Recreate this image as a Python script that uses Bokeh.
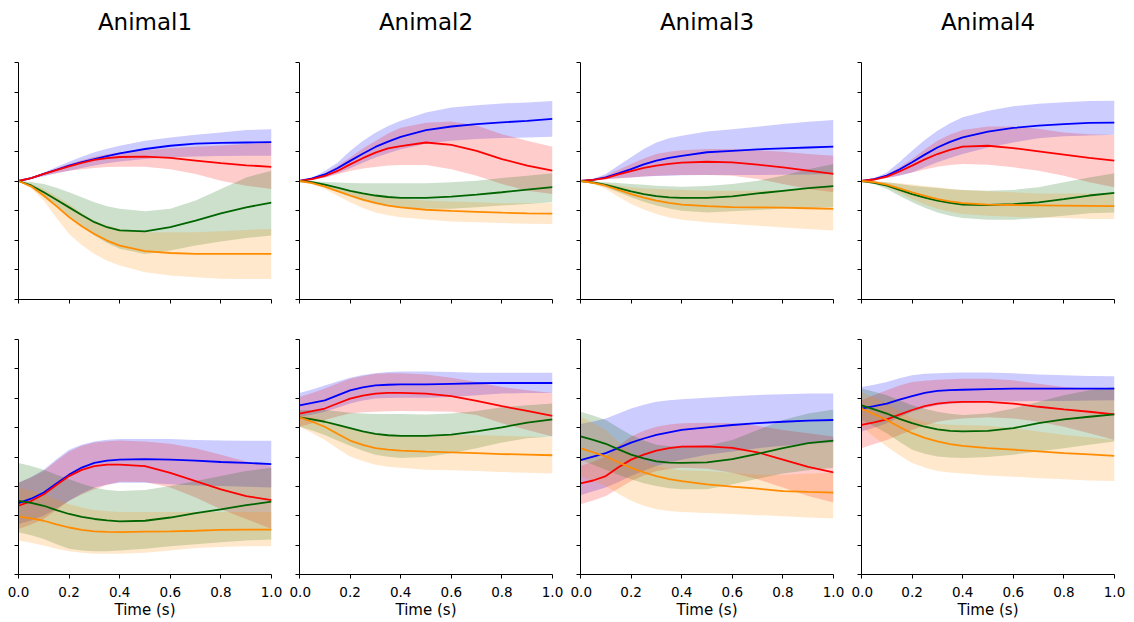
from bokeh.plotting import figure
from bokeh.layouts import column, row
from bokeh.models import Range1d, FixedTicker, CustomJSTickFormatter, PrintfTickFormatter, Title
from bokeh.embed import file_html
from bokeh.resources import INLINE

# ---------------- data ----------------
t = [0.0, 0.05, 0.1, 0.15, 0.2, 0.25, 0.3, 0.35, 0.4, 0.5, 0.6, 0.7, 0.8, 0.9, 1.0]
animals = ["Animal1", "Animal2", "Animal3", "Animal4"]
x_ticks = [0.0, 0.2, 0.4, 0.6, 0.8, 1.0]
y_ticks = [-4, -3, -2, -1, 0, 1, 2, 3, 4]
series_names = ["blue", "red", "green", "orange"]
series_colors = ["#0000ff", "#ff0000", "#006400", "#ff8c00"]

# ---- top row, Animal1 ----
top1_blue = [0, 0.10, 0.24, 0.38, 0.52, 0.64, 0.74, 0.84, 0.93, 1.08, 1.19, 1.26, 1.29, 1.30, 1.31]
top1_blue_hi = [0, 0.12, 0.29, 0.47, 0.65, 0.82, 0.97, 1.09, 1.19, 1.36, 1.47, 1.56, 1.64, 1.72, 1.75]
top1_blue_lo = [0, 0.07, 0.16, 0.26, 0.35, 0.44, 0.52, 0.60, 0.66, 0.74, 0.80, 0.83, 0.84, 0.85, 0.85]
top1_red = [0, 0.10, 0.24, 0.37, 0.49, 0.61, 0.71, 0.77, 0.81, 0.82, 0.78, 0.69, 0.60, 0.53, 0.48]
top1_red_hi = [0, 0.11, 0.27, 0.42, 0.57, 0.70, 0.82, 0.90, 0.97, 1.04, 1.11, 1.16, 1.20, 1.25, 1.30]
top1_red_lo = [0, 0.08, 0.18, 0.27, 0.35, 0.40, 0.44, 0.47, 0.48, 0.48, 0.40, 0.24, 0.01, -0.16, -0.27]
top1_green = [0, -0.15, -0.38, -0.63, -0.89, -1.15, -1.39, -1.56, -1.67, -1.70, -1.56, -1.34, -1.09, -0.89, -0.73]
top1_green_hi = [0, -0.03, -0.10, -0.23, -0.38, -0.55, -0.72, -0.85, -0.94, -1.02, -0.94, -0.66, -0.27, 0.12, 0.35]
top1_green_lo = [0, -0.22, -0.55, -0.88, -1.22, -1.55, -1.84, -2.09, -2.29, -2.46, -2.35, -2.18, -2.04, -1.92, -1.84]
top1_orange = [0, -0.18, -0.49, -0.85, -1.22, -1.53, -1.79, -2.01, -2.18, -2.37, -2.43, -2.46, -2.46, -2.46, -2.46]
top1_orange_hi = [0, -0.09, -0.27, -0.52, -0.78, -1.08, -1.34, -1.50, -1.62, -1.73, -1.73, -1.73, -1.70, -1.65, -1.62]
top1_orange_lo = [0, -0.25, -0.66, -1.25, -1.79, -2.16, -2.46, -2.69, -2.85, -3.08, -3.19, -3.25, -3.30, -3.31, -3.31]

# ---- top row, Animal2 ----
top2_blue = [0, 0.09, 0.22, 0.43, 0.68, 0.92, 1.15, 1.33, 1.49, 1.72, 1.84, 1.92, 1.98, 2.03, 2.10]
top2_blue_hi = [0, 0.11, 0.34, 0.62, 1.01, 1.35, 1.63, 1.86, 2.03, 2.31, 2.48, 2.56, 2.62, 2.65, 2.70]
top2_blue_lo = [0, 0.04, 0.12, 0.26, 0.43, 0.62, 0.79, 0.94, 1.07, 1.26, 1.36, 1.42, 1.45, 1.47, 1.49]
top2_red = [0, 0.06, 0.17, 0.34, 0.56, 0.77, 0.96, 1.10, 1.18, 1.30, 1.22, 1.02, 0.74, 0.52, 0.35]
top2_red_hi = [0, 0.08, 0.25, 0.51, 0.79, 1.10, 1.35, 1.60, 1.80, 1.97, 2.01, 1.87, 1.58, 1.36, 1.16]
top2_red_lo = [0, 0.05, 0.11, 0.23, 0.34, 0.42, 0.47, 0.52, 0.54, 0.54, 0.40, 0.18, -0.10, -0.33, -0.44]
top2_green = [0, -0.04, -0.12, -0.22, -0.33, -0.42, -0.49, -0.54, -0.57, -0.57, -0.53, -0.46, -0.38, -0.29, -0.21]
top2_green_hi = [0, -0.01, -0.03, -0.05, -0.07, -0.08, -0.08, -0.08, -0.08, -0.08, -0.04, 0.01, 0.10, 0.18, 0.26]
top2_green_lo = [0, -0.08, -0.21, -0.37, -0.53, -0.67, -0.78, -0.85, -0.89, -0.94, -0.94, -0.89, -0.83, -0.78, -0.72]
top2_orange = [0, -0.07, -0.19, -0.34, -0.49, -0.63, -0.74, -0.83, -0.89, -0.97, -1.01, -1.04, -1.07, -1.09, -1.10]
top2_orange_hi = [0, -0.04, -0.10, -0.22, -0.33, -0.42, -0.49, -0.56, -0.61, -0.66, -0.69, -0.72, -0.75, -0.75, -0.74]
top2_orange_lo = [0, -0.10, -0.27, -0.50, -0.72, -0.91, -1.06, -1.16, -1.22, -1.30, -1.37, -1.39, -1.42, -1.44, -1.45]

# ---- top row, Animal3 ----
top3_blue = [0, 0.04, 0.12, 0.26, 0.40, 0.56, 0.69, 0.78, 0.85, 0.97, 1.02, 1.07, 1.10, 1.13, 1.16]
top3_blue_hi = [0, 0.08, 0.24, 0.52, 0.80, 1.08, 1.30, 1.44, 1.53, 1.67, 1.75, 1.83, 1.92, 2.00, 2.06]
top3_blue_lo = [0, 0.03, 0.06, 0.09, 0.12, 0.15, 0.17, 0.18, 0.19, 0.20, 0.20, 0.20, 0.21, 0.22, 0.24]
top3_red = [0, 0.04, 0.10, 0.22, 0.33, 0.44, 0.52, 0.58, 0.62, 0.65, 0.63, 0.55, 0.46, 0.35, 0.24]
top3_red_hi = [0, 0.06, 0.18, 0.38, 0.57, 0.76, 0.91, 0.99, 1.04, 1.08, 1.08, 1.04, 0.99, 0.91, 0.85]
top3_red_lo = [0, 0.03, 0.06, 0.09, 0.12, 0.15, 0.18, 0.19, 0.20, 0.20, 0.18, 0.07, -0.10, -0.27, -0.38]
top3_green = [0, -0.05, -0.13, -0.24, -0.35, -0.44, -0.51, -0.55, -0.57, -0.57, -0.52, -0.42, -0.33, -0.24, -0.17]
top3_green_hi = [0, -0.02, -0.04, -0.07, -0.10, -0.13, -0.16, -0.18, -0.19, -0.17, -0.10, 0.01, 0.18, 0.40, 0.57]
top3_green_lo = [0, -0.08, -0.21, -0.38, -0.55, -0.70, -0.83, -0.93, -1.00, -1.06, -1.02, -0.98, -0.94, -0.91, -0.89]
top3_orange = [0, -0.06, -0.16, -0.30, -0.44, -0.56, -0.66, -0.74, -0.80, -0.85, -0.88, -0.89, -0.90, -0.92, -0.94]
top3_orange_hi = [0, -0.03, -0.08, -0.15, -0.21, -0.25, -0.27, -0.29, -0.30, -0.33, -0.33, -0.33, -0.30, -0.27, -0.24]
top3_orange_lo = [0, -0.10, -0.27, -0.53, -0.78, -0.96, -1.11, -1.23, -1.31, -1.39, -1.45, -1.51, -1.57, -1.62, -1.67]

# ---- top row, Animal4 ----
top4_blue = [0, 0.06, 0.18, 0.39, 0.63, 0.89, 1.13, 1.32, 1.47, 1.67, 1.79, 1.87, 1.92, 1.96, 1.97]
top4_blue_hi = [0, 0.10, 0.29, 0.64, 1.02, 1.38, 1.70, 1.95, 2.15, 2.37, 2.52, 2.61, 2.66, 2.70, 2.71]
top4_blue_lo = [0, 0.03, 0.10, 0.18, 0.29, 0.46, 0.63, 0.78, 0.91, 1.13, 1.30, 1.44, 1.51, 1.54, 1.56]
top4_red = [0, 0.05, 0.15, 0.32, 0.52, 0.73, 0.91, 1.05, 1.16, 1.19, 1.11, 1.00, 0.89, 0.78, 0.69]
top4_red_hi = [0, 0.07, 0.21, 0.46, 0.74, 1.06, 1.36, 1.57, 1.72, 1.84, 1.84, 1.76, 1.64, 1.58, 1.55]
top4_red_lo = [0, 0.03, 0.09, 0.19, 0.29, 0.39, 0.48, 0.54, 0.57, 0.55, 0.46, 0.35, 0.18, -0.04, -0.21]
top4_green = [0, -0.06, -0.16, -0.30, -0.44, -0.56, -0.66, -0.74, -0.80, -0.81, -0.78, -0.72, -0.61, -0.49, -0.40]
top4_green_hi = [0, -0.01, -0.04, -0.10, -0.16, -0.20, -0.24, -0.28, -0.30, -0.33, -0.30, -0.21, -0.04, 0.12, 0.26]
top4_green_lo = [0, -0.10, -0.27, -0.50, -0.72, -0.90, -1.06, -1.17, -1.25, -1.31, -1.31, -1.25, -1.17, -1.09, -1.06]
top4_orange = [0, -0.04, -0.12, -0.25, -0.38, -0.50, -0.61, -0.69, -0.75, -0.80, -0.81, -0.82, -0.83, -0.84, -0.85]
top4_orange_hi = [0, -0.02, -0.04, -0.08, -0.12, -0.17, -0.21, -0.26, -0.30, -0.35, -0.38, -0.42, -0.42, -0.42, -0.42]
top4_orange_lo = [0, -0.07, -0.19, -0.40, -0.61, -0.79, -0.94, -1.04, -1.11, -1.17, -1.21, -1.23, -1.25, -1.28, -1.28]

# ---- bottom row, Animal1 ----
bot1_blue = [-1.57, -1.42, -1.21, -0.90, -0.60, -0.36, -0.20, -0.12, -0.09, -0.07, -0.09, -0.12, -0.17, -0.20, -0.24]
bot1_blue_hi = [-0.88, -0.68, -0.43, -0.08, 0.25, 0.42, 0.53, 0.59, 0.61, 0.61, 0.61, 0.58, 0.56, 0.55, 0.55]
bot1_blue_lo = [-2.28, -2.16, -2.00, -1.76, -1.49, -1.24, -1.04, -0.94, -0.88, -0.88, -0.93, -0.97, -0.99, -1.01, -1.04]
bot1_red = [-1.66, -1.50, -1.27, -0.95, -0.65, -0.44, -0.31, -0.26, -0.26, -0.31, -0.54, -0.82, -1.10, -1.33, -1.47]
bot1_red_hi = [-0.88, -0.70, -0.48, -0.13, 0.19, 0.38, 0.49, 0.54, 0.56, 0.53, 0.45, 0.30, 0.08, -0.15, -0.31]
bot1_red_lo = [-2.45, -2.30, -2.11, -1.80, -1.49, -1.28, -1.10, -0.95, -0.84, -0.85, -1.04, -1.38, -1.78, -2.11, -2.45]
bot1_green = [-1.49, -1.56, -1.66, -1.81, -1.94, -2.04, -2.11, -2.16, -2.19, -2.17, -2.06, -1.91, -1.78, -1.64, -1.52]
bot1_green_hi = [-0.20, -0.31, -0.43, -0.60, -0.76, -0.91, -1.04, -1.12, -1.16, -1.12, -0.99, -0.82, -0.65, -0.48, -0.37]
bot1_green_lo = [-2.56, -2.66, -2.79, -2.97, -3.12, -3.18, -3.21, -3.21, -3.18, -3.12, -3.04, -2.97, -2.90, -2.84, -2.81]
bot1_orange = [-2.03, -2.09, -2.17, -2.29, -2.40, -2.48, -2.53, -2.55, -2.56, -2.54, -2.53, -2.51, -2.48, -2.47, -2.47]
bot1_orange_hi = [-1.04, -1.15, -1.27, -1.45, -1.61, -1.72, -1.80, -1.85, -1.87, -1.87, -1.87, -1.87, -1.87, -1.87, -1.87]
bot1_orange_lo = [-2.84, -2.92, -3.01, -3.12, -3.21, -3.26, -3.29, -3.29, -3.29, -3.26, -3.18, -3.10, -3.06, -3.04, -3.04]

# ---- bottom row, Animal2 ----
bot2_blue = [1.76, 1.84, 1.93, 2.10, 2.27, 2.37, 2.44, 2.46, 2.47, 2.47, 2.49, 2.51, 2.52, 2.52, 2.52]
bot2_blue_hi = [2.18, 2.30, 2.43, 2.57, 2.70, 2.79, 2.85, 2.89, 2.91, 2.91, 2.89, 2.87, 2.87, 2.87, 2.87]
bot2_blue_lo = [1.37, 1.45, 1.54, 1.68, 1.82, 1.92, 1.99, 2.01, 2.02, 2.02, 2.04, 2.10, 2.16, 2.18, 2.18]
bot2_red = [1.48, 1.56, 1.65, 1.82, 1.99, 2.09, 2.16, 2.18, 2.18, 2.16, 2.07, 1.91, 1.73, 1.57, 1.40]
bot2_red_hi = [2.04, 2.18, 2.33, 2.50, 2.66, 2.76, 2.83, 2.85, 2.85, 2.81, 2.70, 2.55, 2.38, 2.27, 2.18]
bot2_red_lo = [1.03, 1.15, 1.26, 1.38, 1.48, 1.52, 1.54, 1.56, 1.57, 1.56, 1.54, 1.43, 1.15, 0.92, 0.70]
bot2_green = [1.35, 1.28, 1.20, 1.09, 0.98, 0.87, 0.79, 0.74, 0.72, 0.72, 0.76, 0.87, 1.01, 1.17, 1.28]
bot2_green_hi = [1.60, 1.60, 1.60, 1.56, 1.51, 1.48, 1.46, 1.46, 1.46, 1.45, 1.48, 1.57, 1.69, 1.76, 1.82]
bot2_green_lo = [1.03, 0.90, 0.75, 0.56, 0.38, 0.21, 0.08, 0.01, -0.03, 0.00, 0.13, 0.30, 0.49, 0.64, 0.70]
bot2_orange = [1.35, 1.20, 1.03, 0.79, 0.56, 0.41, 0.30, 0.25, 0.22, 0.18, 0.16, 0.13, 0.10, 0.08, 0.06]
bot2_orange_hi = [1.43, 1.35, 1.26, 1.12, 0.98, 0.88, 0.81, 0.77, 0.75, 0.75, 0.75, 0.74, 0.72, 0.70, 0.67]
bot2_orange_lo = [1.03, 0.82, 0.58, 0.29, 0.02, -0.14, -0.26, -0.33, -0.37, -0.43, -0.45, -0.48, -0.51, -0.54, -0.56]

# ---- bottom row, Animal3 ----
bot3_blue = [-0.11, 0.01, 0.13, 0.31, 0.49, 0.63, 0.75, 0.84, 0.92, 1.01, 1.09, 1.15, 1.20, 1.24, 1.26]
bot3_blue_hi = [1.12, 1.21, 1.31, 1.48, 1.65, 1.78, 1.88, 1.93, 1.97, 2.02, 2.07, 2.11, 2.14, 2.16, 2.16]
bot3_blue_lo = [-1.30, -1.17, -1.04, -0.85, -0.65, -0.47, -0.31, -0.19, -0.09, 0.08, 0.19, 0.30, 0.38, 0.45, 0.49]
bot3_red = [-0.90, -0.80, -0.65, -0.35, -0.09, 0.08, 0.22, 0.30, 0.35, 0.36, 0.31, 0.16, -0.09, -0.34, -0.52]
bot3_red_hi = [-0.31, -0.16, 0.02, 0.38, 0.70, 0.89, 1.03, 1.11, 1.15, 1.17, 1.15, 1.06, 0.92, 0.81, 0.70]
bot3_red_lo = [-1.61, -1.48, -1.33, -1.07, -0.82, -0.63, -0.48, -0.41, -0.37, -0.40, -0.54, -0.76, -1.04, -1.33, -1.55]
bot3_green = [0.70, 0.58, 0.45, 0.26, 0.08, -0.05, -0.15, -0.19, -0.20, -0.18, -0.07, 0.11, 0.30, 0.47, 0.56]
bot3_green_hi = [1.54, 1.41, 1.26, 1.00, 0.75, 0.56, 0.42, 0.37, 0.36, 0.38, 0.58, 0.92, 1.26, 1.48, 1.62]
bot3_green_lo = [-0.09, -0.26, -0.43, -0.60, -0.76, -0.89, -0.99, -1.06, -1.10, -1.10, -0.93, -0.74, -0.56, -0.45, -0.37]
bot3_orange = [0.30, 0.16, 0.02, -0.18, -0.37, -0.52, -0.65, -0.75, -0.82, -0.93, -1.01, -1.08, -1.16, -1.19, -1.21]
bot3_orange_hi = [1.37, 1.16, 0.92, 0.52, 0.13, -0.13, -0.31, -0.40, -0.45, -0.48, -0.54, -0.60, -0.60, -0.56, -0.54]
bot3_orange_lo = [-0.65, -0.81, -0.99, -1.25, -1.49, -1.66, -1.78, -1.84, -1.87, -1.91, -1.94, -1.98, -2.02, -2.06, -2.09]

# ---- bottom row, Animal4 ----
bot4_blue = [1.65, 1.73, 1.82, 1.95, 2.07, 2.18, 2.25, 2.28, 2.29, 2.31, 2.33, 2.33, 2.33, 2.33, 2.33]
bot4_blue_hi = [2.38, 2.46, 2.55, 2.68, 2.78, 2.83, 2.85, 2.87, 2.88, 2.88, 2.85, 2.81, 2.78, 2.76, 2.75]
bot4_blue_lo = [0.87, 1.00, 1.15, 1.35, 1.54, 1.67, 1.76, 1.81, 1.84, 1.88, 1.90, 1.91, 1.91, 1.92, 1.93]
bot4_red = [1.09, 1.18, 1.28, 1.44, 1.60, 1.73, 1.82, 1.86, 1.88, 1.88, 1.82, 1.71, 1.62, 1.54, 1.45]
bot4_red_hi = [1.93, 2.11, 2.27, 2.43, 2.55, 2.60, 2.63, 2.65, 2.66, 2.66, 2.61, 2.49, 2.38, 2.33, 2.33]
bot4_red_lo = [0.30, 0.44, 0.58, 0.75, 0.92, 1.07, 1.20, 1.27, 1.31, 1.35, 1.31, 1.20, 1.03, 0.81, 0.58]
bot4_green = [1.76, 1.62, 1.48, 1.30, 1.15, 1.03, 0.94, 0.89, 0.87, 0.89, 0.98, 1.15, 1.28, 1.37, 1.45]
bot4_green_hi = [2.33, 2.22, 2.10, 1.93, 1.76, 1.64, 1.54, 1.47, 1.43, 1.48, 1.65, 1.88, 2.10, 2.27, 2.38]
bot4_green_lo = [1.26, 1.05, 0.81, 0.52, 0.25, 0.11, 0.02, -0.02, -0.03, 0.00, 0.08, 0.19, 0.30, 0.42, 0.53]
bot4_orange = [1.65, 1.46, 1.26, 1.02, 0.81, 0.65, 0.53, 0.44, 0.38, 0.30, 0.25, 0.19, 0.13, 0.09, 0.04]
bot4_orange_hi = [2.21, 2.02, 1.82, 1.55, 1.31, 1.19, 1.12, 1.10, 1.09, 1.06, 0.98, 0.87, 0.75, 0.67, 0.58]
bot4_orange_lo = [1.03, 0.68, 0.36, 0.06, -0.20, -0.36, -0.48, -0.53, -0.56, -0.63, -0.67, -0.72, -0.76, -0.80, -0.82]

g = globals()
FONT = "DejaVu Sans"


def make_panel(row_idx, col_idx):
    prefix = ("top" if row_idx == 0 else "bot") + str(col_idx + 1)
    left = 18 if col_idx == 0 else 10
    right = 18 if col_idx < 3 else 12
    if row_idx == 0:
        top, bottom = 62, 20
    else:
        top, bottom = 20, 45
    p = figure(width=left + 253 + right, height=top + 237 + bottom,
               x_range=Range1d(0, 1), y_range=Range1d(-4, 4),
               output_backend="svg", toolbar_location=None,
               min_border_left=left, min_border_right=right,
               min_border_top=top, min_border_bottom=bottom)
    p.outline_line_color = None
    p.xgrid.visible = False
    p.ygrid.visible = False
    p.background_fill_color = "white"
    p.border_fill_color = "white"

    if row_idx == 0:
        spacer = Title(text=" ", text_font=FONT, text_font_size="19px", standoff=0)
        p.add_layout(spacer, "above")
        ttl = Title(text=animals[col_idx], text_font=FONT, text_font_size="23px",
                    text_font_style="normal", text_color="black", align="center",
                    standoff=8)
        p.add_layout(ttl, "above")

    for ax in (p.xaxis[0], p.yaxis[0]):
        ax.axis_line_color = "black"
        ax.axis_line_width = 1
        ax.major_tick_line_color = "black"
        ax.major_tick_line_width = 1
        ax.major_tick_in = 0
        ax.major_tick_out = 4
        ax.minor_tick_line_color = None
        ax.major_label_text_font = FONT
        ax.major_label_text_font_size = "13.5px"
        ax.major_label_text_color = "black"

    p.yaxis.ticker = FixedTicker(ticks=y_ticks)
    p.yaxis.formatter = CustomJSTickFormatter(code="return ''")
    p.yaxis.major_label_standoff = 0
    p.xaxis.ticker = FixedTicker(ticks=x_ticks)
    if row_idx == 0:
        p.xaxis.formatter = CustomJSTickFormatter(code="return ''")
        p.xaxis.major_label_standoff = 0
    else:
        p.xaxis.formatter = PrintfTickFormatter(format="%.1f")
        p.xaxis.major_label_standoff = 8
        p.xaxis.axis_label = "Time (s)"
        p.xaxis.axis_label_text_font = FONT
        p.xaxis.axis_label_text_font_size = "15px"
        p.xaxis.axis_label_text_font_style = "normal"
        p.xaxis.axis_label_text_color = "black"
        p.xaxis.axis_label_standoff = 1

    for name, color in zip(series_names, series_colors):
        p.varea(x=t, y1=g[f"{prefix}_{name}_lo"], y2=g[f"{prefix}_{name}_hi"],
                fill_color=color, fill_alpha=0.2)
    for name, color in zip(series_names, series_colors):
        p.line(t, g[f"{prefix}_{name}"], line_color=color, line_width=1.8)
    return p


top_row = row(*[make_panel(0, c) for c in range(4)])
bottom_row = row(*[make_panel(1, c) for c in range(4)])
layout = column(top_row, bottom_row)

open("out.html", "w").write(file_html(layout, INLINE))
